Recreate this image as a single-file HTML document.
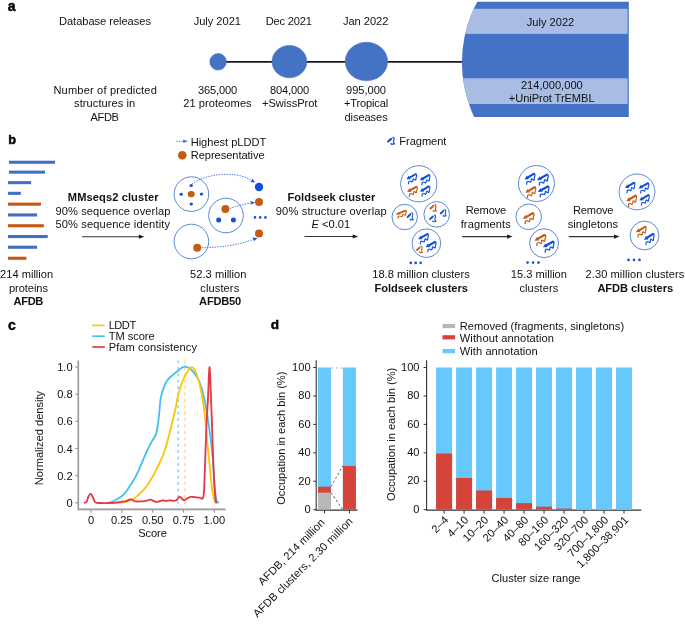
<!DOCTYPE html>
<html><head><meta charset="utf-8"><title>AFDB clustering figure</title>
<style>
html,body{margin:0;padding:0;background:#fff;}
body{width:685px;height:626px;overflow:hidden;font-family:"Liberation Sans",sans-serif;}
svg{display:block;will-change:transform;}
text{font-family:"Liberation Sans",sans-serif;}
</style></head><body>
<svg width="685" height="626" viewBox="0 0 685 626" font-family="Liberation Sans, sans-serif" font-size="11.1" fill="#111111"><defs>
<g id="prot">
<path d="M9.2 1.2 L3.4 4.6" stroke-width="2.1" stroke-linecap="round" fill="none"/>
<path d="M0.2 6.5 L2.4 2.8 L4.5 6.3 Z" stroke="none"/>
<path d="M9.2 0.8 C10.5 1.0 10.7 2.8 9.9 4.1 C9.6 5.1 9.9 7.3 9.4 7.3 C8.6 7.3 7.6 5.8 7.1 6.0 C6.5 6.4 6.8 9.2 6.1 9.2 C5.4 9.2 4.5 8.2 3.9 8.3 C3.2 8.4 2.8 8.6 2.5 9.0 L2.2 11.6" stroke-width="1.15" fill="none" stroke-linejoin="round"/>
</g>
<g id="frag">
<path d="M4.1 1.8 L1.0 4.4" stroke-width="2.1" stroke-linecap="round" fill="none"/>
<path d="M5.4 0.4 C6.9 0.5 7.6 1.4 6.6 3.2 L6.4 5.6 L7.5 6.9 L4.3 7.2 L3.8 6.0" stroke-width="1.2" fill="none" stroke-linejoin="round"/>
</g>
</defs><text x="7.7" y="10.8" text-anchor="start" font-weight="bold" font-size="14.0" fill="#000" stroke="#000" stroke-width="0.45">a</text>
<line x1="218" y1="61.8" x2="470" y2="61.8" stroke="#1a1a1a" stroke-width="1.7"/>
<circle cx="218.1" cy="61.8" r="8.3" fill="#4472c4" stroke="#3e6abb" stroke-width="0.5"/>
<ellipse cx="289.4" cy="61.6" rx="17.4" ry="16.2" fill="#4472c4" stroke="#3e6abb" stroke-width="0.5"/>
<ellipse cx="366.4" cy="61.5" rx="21.2" ry="19.3" fill="#4472c4" stroke="#3e6abb" stroke-width="0.5"/>
<clipPath id="bigclip"><rect x="460" y="1.8" width="168.8" height="115.3"/></clipPath>
<g clip-path="url(#bigclip)">
<circle cx="589.4" cy="62.5" r="127.5" fill="#4472c4"/>
<clipPath id="bigclip2"><circle cx="589.4" cy="62.5" r="127.5"/></clipPath>
<g clip-path="url(#bigclip2)">
<rect x="455" y="8.8" width="172.6" height="25.1" fill="#a9bce3"/>
<rect x="455" y="78.3" width="172.6" height="25.7" fill="#a9bce3"/>
</g></g>
<text x="59.00" y="25.3" letter-spacing="-0.035">Database releases</text>
<text x="193.70" y="25.4" letter-spacing="-0.027">July 2021</text>
<text x="265.70" y="25.4" letter-spacing="-0.174">Dec 2021</text>
<text x="342.90" y="25.3" letter-spacing="-0.024">Jan 2022</text>
<text x="526.80" y="25.5" letter-spacing="-0.003">July 2022</text>
<text x="53.40" y="93.5" letter-spacing="0.163">Number of predicted</text>
<text x="74.10" y="107.3" letter-spacing="0.063">structures in</text>
<text x="90.60" y="120.9" letter-spacing="-0.400">AFDB</text>
<text x="197.90" y="94.1" letter-spacing="-0.120">365,000</text>
<text x="183.20" y="107.1" letter-spacing="0.057">21 proteomes</text>
<text x="269.90" y="94.1" letter-spacing="-0.120">804,000</text>
<text x="262.00" y="107.1" letter-spacing="-0.048">+SwissProt</text>
<text x="346.00" y="94.1" letter-spacing="-0.020">995,000</text>
<text x="344.00" y="107.4" letter-spacing="-0.169">+Tropical</text>
<text x="344.50" y="121.0" letter-spacing="-0.087">diseases</text>
<text x="520.90" y="89.0" letter-spacing="0.017">214,000,000</text>
<text x="508.80" y="101.8" letter-spacing="-0.062">+UniProt TrEMBL</text>
<text x="8.2" y="143.8" text-anchor="start" font-weight="bold" font-size="12.8" fill="#000" stroke="#000" stroke-width="0.45">b</text>
<rect x="8.9" y="160.7" width="46.2" height="3.1" fill="#416fc4"/>
<rect x="8.9" y="170.6" width="36.1" height="3.1" fill="#416fc4"/>
<rect x="7.95" y="181.1" width="23.15" height="3.1" fill="#416fc4"/>
<rect x="7.95" y="191.8" width="12.85" height="3.1" fill="#416fc4"/>
<rect x="7.95" y="202.6" width="32.95" height="3.1" fill="#c55812"/>
<rect x="7.95" y="213.4" width="29.15" height="3.1" fill="#416fc4"/>
<rect x="7.95" y="224.2" width="35.85" height="3.1" fill="#c55812"/>
<rect x="7.95" y="235" width="39.75" height="3.1" fill="#416fc4"/>
<rect x="7.95" y="245.7" width="29.15" height="3.1" fill="#416fc4"/>
<rect x="7.95" y="256.7" width="18.45" height="3.1" fill="#c55812"/>
<text x="26.6" y="277.8" text-anchor="middle">214 million</text>
<text x="9.00" y="292.0" letter-spacing="-0.070">proteins</text>
<text x="13.60" y="304.9" font-weight="bold" letter-spacing="-0.343">AFDB</text>
<text x="67.80" y="200.6" font-weight="bold" letter-spacing="0.104">MMseqs2 cluster</text>
<text x="55.40" y="214.8" letter-spacing="0.114">90% sequence overlap</text>
<text x="55.40" y="227.9" letter-spacing="0.150">50% sequence identity</text>
<line x1="81.9" y1="236.7" x2="140.3" y2="236.7" stroke="#333" stroke-width="1.05"/>
<path d="M144.3 236.7 L138.8 234.6 L138.8 238.79999999999998 Z" fill="#1a1a1a"/>
<path d="M176.3 141.3 L183.5 141.3" stroke="#4d7fd8" stroke-width="1" stroke-dasharray="1.4 1.1" fill="none"/>
<path d="M188 141.3 L183.2 139.6 L183.2 143.0 Z" fill="#3f72d3"/>
<text x="190.70" y="145.5" letter-spacing="-0.023">Highest pLDDT</text>
<circle cx="182.3" cy="155.3" r="4.3" fill="#c45a16"/>
<text x="190.70" y="159.2" letter-spacing="-0.051">Representative</text>
<circle cx="191.4" cy="194.1" r="17.3" fill="none" stroke="#4a7ad0" stroke-width="0.9"/>
<circle cx="226.0" cy="215.5" r="17.3" fill="none" stroke="#4a7ad0" stroke-width="0.9"/>
<circle cx="191.4" cy="241.5" r="17.3" fill="none" stroke="#4a7ad0" stroke-width="0.9"/>
<ellipse cx="191.2" cy="194.1" rx="3.5" ry="3.2" fill="#c45a16"/>
<ellipse cx="191.2" cy="185.4" rx="1.7" ry="1.5" fill="#0f4fdc"/>
<ellipse cx="181.2" cy="194.2" rx="1.7" ry="1.5" fill="#0f4fdc"/>
<ellipse cx="201.5" cy="194.1" rx="1.7" ry="1.5" fill="#0f4fdc"/>
<ellipse cx="191.2" cy="204.1" rx="1.7" ry="1.5" fill="#0f4fdc"/>
<circle cx="225.4" cy="208.9" r="4" fill="#c45a16"/>
<circle cx="218.7" cy="220.1" r="2.5" fill="#0f4fdc"/>
<circle cx="233.4" cy="220.1" r="2.5" fill="#0f4fdc"/>
<circle cx="197.2" cy="247.7" r="4" fill="#c45a16"/>
<circle cx="259" cy="187" r="4.2" fill="#0f4fdc"/>
<circle cx="259" cy="202.1" r="4" fill="#c45a16"/>
<circle cx="259" cy="233.4" r="4" fill="#c45a16"/>
<circle cx="255" cy="217.4" r="1.3" fill="#0f4fdc"/>
<circle cx="260.2" cy="217.4" r="1.3" fill="#0f4fdc"/>
<circle cx="265.4" cy="217.4" r="1.3" fill="#0f4fdc"/>
<path d="M192 184 C205 174 236 170 251.5 180.5" stroke="#3f72d6" stroke-width="0.95" stroke-dasharray="1.4 1.2" fill="none"/>
<path d="M255 182.5 L250.2 182 L251.8 180.5 L252.2 178.2 Z" fill="#0f4fdc"/>
<path d="M229.8 208.3 C237 206 244 204 251.5 203" stroke="#3f72d6" stroke-width="0.95" stroke-dasharray="1.4 1.2" fill="none"/>
<path d="M255 202.4 L251 204.8 L251.4 202.8 L250.2 201 Z" fill="#0f4fdc"/>
<path d="M201.5 247.7 C222 247.5 238 245 254 239.2" stroke="#3f72d6" stroke-width="0.95" stroke-dasharray="1.4 1.2" fill="none"/>
<path d="M257.5 238 L253.8 241.2 L253.7 239.2 L252.2 237.6 Z" fill="#0f4fdc"/>
<text x="190.10" y="278.2" letter-spacing="0.023">52.3 million</text>
<text x="200.30" y="291.7" letter-spacing="0.094">clusters</text>
<text x="199.10" y="304.9" font-weight="bold" letter-spacing="-0.216">AFDB50</text>
<use href="#frag" transform="translate(387.1 137) scale(1 1.01)" fill="#0f4fdc" stroke="#0f4fdc"/>
<text x="399.30" y="144.9" letter-spacing="-0.057">Fragment</text>
<text x="287.50" y="201.2" font-weight="bold" letter-spacing="0.020">Foldseek cluster</text>
<text x="275.80" y="214.7" letter-spacing="0.152">90% structure overlap</text>
<text x="330.9" y="228.2" text-anchor="middle"><tspan font-style="italic">E</tspan> &lt;0.01</text>
<line x1="304.5" y1="236.5" x2="354.2" y2="236.5" stroke="#333" stroke-width="1.05"/>
<path d="M358.2 236.5 L352.7 234.4 L352.7 238.6 Z" fill="#1a1a1a"/>
<circle cx="418.8" cy="183.8" r="18.1" fill="none" stroke="#4a7ad0" stroke-width="0.9"/>
<circle cx="404.7" cy="217.0" r="12.7" fill="none" stroke="#4a7ad0" stroke-width="0.9"/>
<circle cx="436.7" cy="214.4" r="12.8" fill="none" stroke="#4a7ad0" stroke-width="0.9"/>
<circle cx="426.4" cy="243.2" r="14.35" fill="none" stroke="#4a7ad0" stroke-width="0.9"/>
<use href="#prot" transform="translate(406.2 173.1) scale(1.01 0.96)" fill="#0f4fdc" stroke="#0f4fdc"/>
<use href="#prot" transform="translate(419.6 174) scale(1 0.98)" fill="#0f4fdc" stroke="#0f4fdc"/>
<use href="#prot" transform="translate(407 185.6) scale(1 0.97)" fill="#c45a16" stroke="#c45a16"/>
<use href="#prot" transform="translate(419.8 185.3) scale(0.98 0.98)" fill="#0f4fdc" stroke="#0f4fdc"/>
<use href="#prot" transform="translate(395.6 209.8) scale(1.04 0.75)" fill="#c45a16" stroke="#c45a16"/>
<use href="#frag" transform="translate(406.8 212.4) scale(0.85 1.05)" fill="#0f4fdc" stroke="#0f4fdc"/>
<use href="#frag" transform="translate(429.5 204.2) scale(0.93 0.97)" fill="#c45a16" stroke="#c45a16"/>
<use href="#frag" transform="translate(439.8 209.2) scale(0.85 0.97)" fill="#0f4fdc" stroke="#0f4fdc"/>
<use href="#frag" transform="translate(429.2 214.8) scale(0.9 0.97)" fill="#0f4fdc" stroke="#0f4fdc"/>
<use href="#prot" transform="translate(418 232.9) scale(1.01 0.99)" fill="#0f4fdc" stroke="#0f4fdc"/>
<use href="#prot" transform="translate(425.5 240.8) scale(1.02 0.99)" fill="#0f4fdc" stroke="#0f4fdc"/>
<use href="#frag" transform="translate(416.1 245.8) scale(0.86 0.95)" fill="#c45a16" stroke="#c45a16"/>
<circle cx="410.8" cy="262.9" r="1.3" fill="#0f4fdc"/>
<circle cx="415.7" cy="262.9" r="1.3" fill="#0f4fdc"/>
<circle cx="420.6" cy="262.9" r="1.3" fill="#0f4fdc"/>
<text x="421.0" y="277.7" text-anchor="middle">18.8 million clusters</text>
<text x="374.50" y="291.5" font-weight="bold" letter-spacing="-0.018">Foldseek clusters</text>
<text x="465.80" y="214.4" letter-spacing="-0.186">Remove</text>
<text x="460.70" y="227.8" letter-spacing="0.094">fragments</text>
<line x1="462.2" y1="236.6" x2="508.6" y2="236.6" stroke="#333" stroke-width="1.05"/>
<path d="M512.6 236.6 L507.1 234.5 L507.1 238.7 Z" fill="#1a1a1a"/>
<circle cx="536.4" cy="183.5" r="18.0" fill="none" stroke="#4a7ad0" stroke-width="0.9"/>
<circle cx="528.7" cy="216.8" r="12.8" fill="none" stroke="#4a7ad0" stroke-width="0.9"/>
<circle cx="544.1" cy="243.2" r="14.45" fill="none" stroke="#4a7ad0" stroke-width="0.9"/>
<use href="#prot" transform="translate(524.3 172.6) scale(1.03 1.05)" fill="#0f4fdc" stroke="#0f4fdc"/>
<use href="#prot" transform="translate(536.8 173.4) scale(1.11 1.05)" fill="#0f4fdc" stroke="#0f4fdc"/>
<use href="#prot" transform="translate(525.1 186) scale(1.03 1.05)" fill="#c45a16" stroke="#c45a16"/>
<use href="#prot" transform="translate(537.7 185.2) scale(1.1 1.04)" fill="#0f4fdc" stroke="#0f4fdc"/>
<use href="#prot" transform="translate(522.6 212) scale(1.1 1.05)" fill="#c45a16" stroke="#c45a16"/>
<use href="#prot" transform="translate(534.3 233.8) scale(1.1 1.05)" fill="#c45a16" stroke="#c45a16"/>
<use href="#prot" transform="translate(542.7 240.5) scale(1.1 1.04)" fill="#0f4fdc" stroke="#0f4fdc"/>
<circle cx="527.6" cy="262.6" r="1.3" fill="#0f4fdc"/>
<circle cx="533.05" cy="262.6" r="1.3" fill="#0f4fdc"/>
<circle cx="538.5" cy="262.6" r="1.3" fill="#0f4fdc"/>
<text x="510.80" y="277.7" letter-spacing="0.005">15.3 million</text>
<text x="519.40" y="291.8" letter-spacing="0.109">clusters</text>
<text x="573.00" y="214.4" letter-spacing="-0.166">Remove</text>
<text x="567.70" y="227.8" letter-spacing="0.047">singletons</text>
<line x1="568.8" y1="236.6" x2="615.5" y2="236.6" stroke="#333" stroke-width="1.05"/>
<path d="M619.5 236.6 L614.0 234.5 L614.0 238.7 Z" fill="#1a1a1a"/>
<circle cx="637.0" cy="191.9" r="17.9" fill="none" stroke="#4a7ad0" stroke-width="0.9"/>
<circle cx="644.5" cy="235.5" r="14.4" fill="none" stroke="#4a7ad0" stroke-width="0.9"/>
<use href="#prot" transform="translate(624.8 181.6) scale(0.98 1)" fill="#0f4fdc" stroke="#0f4fdc"/>
<use href="#prot" transform="translate(638.4 182.1) scale(1.01 0.98)" fill="#0f4fdc" stroke="#0f4fdc"/>
<use href="#prot" transform="translate(626.1 194.4) scale(1.01 1.07)" fill="#c45a16" stroke="#c45a16"/>
<use href="#prot" transform="translate(639.2 193.9) scale(0.98 1.01)" fill="#0f4fdc" stroke="#0f4fdc"/>
<use href="#prot" transform="translate(635.7 225.6) scale(1.01 1.03)" fill="#c45a16" stroke="#c45a16"/>
<use href="#prot" transform="translate(643.7 232.8) scale(1.01 1.06)" fill="#0f4fdc" stroke="#0f4fdc"/>
<circle cx="628.5" cy="259.9" r="1.3" fill="#0f4fdc"/>
<circle cx="634" cy="259.9" r="1.3" fill="#0f4fdc"/>
<circle cx="639.5" cy="259.9" r="1.3" fill="#0f4fdc"/>
<text x="585.60" y="277.7" letter-spacing="0.061">2.30 million clusters</text>
<text x="597.40" y="291.5" font-weight="bold" letter-spacing="-0.057">AFDB clusters</text>
<text x="7.9" y="329.9" text-anchor="start" font-weight="bold" font-size="14.0" fill="#000" stroke="#000" stroke-width="0.45">c</text>
<line x1="92.3" y1="325.4" x2="104.8" y2="325.4" stroke="#fec30f" stroke-width="1.7"/>
<text x="108.70" y="328.8" letter-spacing="-0.497">LDDT</text>
<line x1="92.3" y1="336.2" x2="104.8" y2="336.2" stroke="#45c1f1" stroke-width="1.7"/>
<text x="108.70" y="339.9" letter-spacing="-0.036">TM score</text>
<line x1="92.3" y1="347.0" x2="104.8" y2="347.0" stroke="#e33b45" stroke-width="1.7"/>
<text x="108.70" y="350.8" letter-spacing="0.088">Pfam consistency</text>
<path d="M78.3 360.6 L78.3 509.4 L225.5 509.4" stroke="#999999" stroke-width="1.6" fill="none"/>
<line x1="75.3" y1="502.8" x2="78.6" y2="502.8" stroke="#999999" stroke-width="1.2"/>
<text x="72.6" y="506.8" text-anchor="end">0</text>
<line x1="75.3" y1="475.64" x2="78.6" y2="475.64" stroke="#999999" stroke-width="1.2"/>
<text x="72.6" y="479.6" text-anchor="end">0.2</text>
<line x1="75.3" y1="448.48" x2="78.6" y2="448.48" stroke="#999999" stroke-width="1.2"/>
<text x="72.6" y="452.5" text-anchor="end">0.4</text>
<line x1="75.3" y1="421.32" x2="78.6" y2="421.32" stroke="#999999" stroke-width="1.2"/>
<text x="72.6" y="425.3" text-anchor="end">0.6</text>
<line x1="75.3" y1="394.16" x2="78.6" y2="394.16" stroke="#999999" stroke-width="1.2"/>
<text x="72.6" y="398.2" text-anchor="end">0.8</text>
<line x1="75.3" y1="367" x2="78.6" y2="367" stroke="#999999" stroke-width="1.2"/>
<text x="72.6" y="371.0" text-anchor="end">1.0</text>
<line x1="91" y1="509.4" x2="91" y2="512.7" stroke="#999999" stroke-width="1.2"/>
<text x="91.0" y="523.7" text-anchor="middle">0</text>
<line x1="121.85" y1="509.4" x2="121.85" y2="512.7" stroke="#999999" stroke-width="1.2"/>
<text x="121.8" y="523.7" text-anchor="middle">0.25</text>
<line x1="152.7" y1="509.4" x2="152.7" y2="512.7" stroke="#999999" stroke-width="1.2"/>
<text x="152.7" y="523.7" text-anchor="middle">0.50</text>
<line x1="183.55" y1="509.4" x2="183.55" y2="512.7" stroke="#999999" stroke-width="1.2"/>
<text x="183.6" y="523.7" text-anchor="middle">0.75</text>
<line x1="214.4" y1="509.4" x2="214.4" y2="512.7" stroke="#999999" stroke-width="1.2"/>
<text x="214.4" y="523.7" text-anchor="middle">1.00</text>
<text x="138.20" y="537.2" letter-spacing="-0.075">Score</text>
<text transform="translate(42.7 438) rotate(-90)" text-anchor="middle">Normalized density</text>
<line x1="178.2" y1="360.5" x2="178.2" y2="509" stroke="#8dd5f5" stroke-width="1.5" stroke-dasharray="3 3.4"/>
<line x1="184.9" y1="360.5" x2="184.9" y2="509" stroke="#fedb86" stroke-width="1.5" stroke-dasharray="3 3.4"/>
<path d="M108 503 C108.58 502.82 110.08 502.48 111.5 501.9 C112.92 501.32 114.82 500.45 116.5 499.5 C118.18 498.55 120.1 497.4 121.6 496.2 C123.1 495 124.3 493.73 125.5 492.3 C126.7 490.87 127.63 489.32 128.8 487.6 C129.97 485.88 131.32 483.92 132.5 482 C133.68 480.08 134.82 478.18 135.9 476.1 C136.98 474.02 138.03 471.67 139 469.5 C139.97 467.33 140.87 465.05 141.7 463.1 C142.53 461.15 143.28 459.47 144 457.8 C144.72 456.13 145.3 454.65 146 453.1 C146.7 451.55 147.48 449.95 148.2 448.5 C148.92 447.05 149.58 445.77 150.3 444.4 C151.02 443.03 151.58 441.93 152.5 440.3 C153.42 438.67 154.93 436.98 155.8 434.6 C156.67 432.22 157.13 429.52 157.7 426 C158.27 422.48 158.72 417.97 159.2 413.5 C159.68 409.03 159.97 403.18 160.6 399.2 C161.23 395.22 161.97 392.63 163 389.6 C164.03 386.57 165.22 383.4 166.8 381 C168.38 378.6 170.68 376.87 172.5 375.2 C174.32 373.53 176.28 372.17 177.7 371 C179.12 369.83 179.87 368.92 181 368.2 C182.13 367.48 183.33 366.82 184.5 366.7 C185.67 366.58 186.9 367.03 188 367.5 C189.1 367.97 189.77 368.18 191.1 369.5 C192.43 370.82 194.6 373.32 196 375.4 C197.4 377.48 198.43 379.43 199.5 382 C200.57 384.57 201.48 387.47 202.4 390.8 C203.32 394.13 204.15 397.75 205 402 C205.85 406.25 206.67 410.97 207.5 416.3 C208.33 421.63 209.15 427.18 210 434 C210.85 440.82 211.9 449.53 212.6 457.2 C213.3 464.87 213.72 473.87 214.2 480 C214.68 486.13 215.03 490.42 215.5 494 C215.97 497.58 216.42 500.03 217 501.5 C217.58 502.97 218.67 502.58 219 502.8" stroke="#45c1f1" stroke-width="1.85" fill="none"/>
<path d="M112 503 C113.6 502.93 119.1 502.87 121.6 502.6 C124.1 502.33 125.08 501.98 127 501.4 C128.92 500.82 131.27 500.12 133.1 499.1 C134.93 498.08 136.33 496.75 138 495.3 C139.67 493.85 141.6 491.98 143.1 490.4 C144.6 488.82 145.8 487.47 147 485.8 C148.2 484.13 149.13 482.33 150.3 480.4 C151.47 478.47 152.8 476.37 154 474.2 C155.2 472.03 156.42 469.6 157.5 467.4 C158.58 465.2 159.53 463.15 160.5 461 C161.47 458.85 162.45 456.7 163.3 454.5 C164.15 452.3 164.85 450.22 165.6 447.8 C166.35 445.38 167.1 442.55 167.8 440 C168.5 437.45 169.17 435 169.8 432.5 C170.43 430 170.97 427.62 171.6 425 C172.23 422.38 172.95 419.5 173.6 416.8 C174.25 414.1 174.78 412.22 175.5 408.8 C176.22 405.38 177.1 399.82 177.9 396.3 C178.7 392.78 179.43 390.42 180.3 387.7 C181.17 384.98 182.23 382.12 183.1 380 C183.97 377.88 184.73 376.47 185.5 375 C186.27 373.53 186.8 372.48 187.7 371.2 C188.6 369.92 189.93 367.78 190.9 367.3 C191.87 366.82 192.65 367.43 193.5 368.3 C194.35 369.17 195.15 370.45 196 372.5 C196.85 374.55 197.73 377.43 198.6 380.6 C199.47 383.77 200.35 387.25 201.2 391.5 C202.05 395.75 202.95 400.68 203.7 406.1 C204.45 411.52 205.07 417.6 205.7 424 C206.33 430.4 206.87 437.83 207.5 444.5 C208.13 451.17 208.87 457.62 209.5 464 C210.13 470.38 210.67 477.55 211.3 482.8 C211.93 488.05 212.65 492.3 213.3 495.5 C213.95 498.7 214.58 500.75 215.2 502 C215.82 503.25 216.7 502.83 217 503" stroke="#fec30f" stroke-width="1.85" fill="none"/>
<path d="M84.1 503 C84.46 502.85 85.87 502.9 86.5 502 C87.13 501.1 87.69 498.26 88.3 497 C88.91 495.74 89.92 493.6 90.6 493.6 C91.27 493.6 92.09 495.68 92.8 497 C93.5 498.32 94.22 501.5 95.3 502.4 C96.38 503.3 97.8 502.91 100 503 C102.2 503.09 107.6 503.06 110 503 C112.4 502.94 114.35 502.78 116 502.6 C117.65 502.42 119.5 502.01 121 501.8 C122.5 501.59 124.55 501.57 126 501.2 C127.45 500.82 129.32 499.27 130.7 499.3 C132.08 499.33 133.61 501.08 135.2 501.4 C136.79 501.71 139.68 501.49 141.3 501.4 C142.92 501.31 144.62 501.06 146 500.8 C147.38 500.55 149.06 499.55 150.5 499.7 C151.94 499.85 154.32 501.53 155.6 501.8 C156.88 502.07 157.92 501.73 159 501.5 C160.08 501.27 161.75 500.38 162.8 500.3 C163.85 500.23 164.94 501 166 501 C167.06 501 168.78 500.33 169.9 500.3 C171.03 500.27 172.51 500.81 173.5 500.8 C174.49 500.79 175.57 500.83 176.5 500.2 C177.43 499.57 178.88 496.81 179.7 496.6 C180.52 496.39 181.32 498.25 182 498.8 C182.68 499.36 183.45 500.35 184.2 500.3 C184.95 500.25 186.07 499.01 187 498.5 C187.93 497.99 189.43 497.12 190.4 496.9 C191.38 496.67 192.59 496.94 193.5 497 C194.41 497.06 195.53 497.18 196.5 497.3 C197.47 497.42 199.06 497.67 200 497.8 C200.94 497.94 202.17 499.67 202.8 498.2 C203.43 496.73 203.69 497.98 204.2 488 C204.71 478.02 205.63 445.2 206.2 431.7 C206.77 418.2 207.49 407.66 208 398 C208.51 388.34 209.1 366.09 209.6 367.3 C210.09 368.51 210.85 394.9 211.3 406.1 C211.75 417.31 212.21 431.26 212.6 442 C212.99 452.74 213.54 469.9 213.9 477.7 C214.26 485.5 214.7 490.36 215 494 C215.3 497.64 215.6 500.68 215.9 502 C216.2 503.32 216.84 502.68 217 502.8" stroke="#e33b45" stroke-width="1.85" fill="none"/>
<text x="270.8" y="329.4" text-anchor="start" font-weight="bold" font-size="13.6" fill="#000" stroke="#000" stroke-width="0.45">d</text>
<path d="M316.2 360.3 L316.2 510.1 L357.6 510.1" stroke="#333333" stroke-width="1.1" fill="none"/>
<line x1="313.2" y1="509.7" x2="316.2" y2="509.7" stroke="#333333" stroke-width="1"/>
<text x="310.6" y="513.0" text-anchor="end">0</text>
<line x1="313.2" y1="481.26" x2="316.2" y2="481.26" stroke="#333333" stroke-width="1"/>
<text x="310.6" y="484.6" text-anchor="end">20</text>
<line x1="313.2" y1="452.82" x2="316.2" y2="452.82" stroke="#333333" stroke-width="1"/>
<text x="310.6" y="456.1" text-anchor="end">40</text>
<line x1="313.2" y1="424.38" x2="316.2" y2="424.38" stroke="#333333" stroke-width="1"/>
<text x="310.6" y="427.7" text-anchor="end">60</text>
<line x1="313.2" y1="395.94" x2="316.2" y2="395.94" stroke="#333333" stroke-width="1"/>
<text x="310.6" y="399.2" text-anchor="end">80</text>
<line x1="313.2" y1="367.5" x2="316.2" y2="367.5" stroke="#333333" stroke-width="1"/>
<text x="310.6" y="370.8" text-anchor="end">100</text>
<text transform="translate(285.1 438.2) rotate(-90)" text-anchor="middle">Occupation in each bin (%)</text>
<rect x="318" y="367.5" width="12.9" height="142.2" fill="#67c8fb"/>
<rect x="318" y="486.66" width="12.9" height="23.04" fill="#d4443b"/>
<rect x="318" y="492.64" width="12.9" height="17.06" fill="#b8b8b8"/>
<rect x="342.9" y="367.5" width="13" height="142.2" fill="#67c8fb"/>
<rect x="342.9" y="465.9" width="13" height="43.8" fill="#d4443b"/>
<line x1="331" y1="368" x2="342.9" y2="368" stroke="#b0b0b0" stroke-width="1.0" stroke-dasharray="2.2 2.6"/>
<line x1="331" y1="486.66" x2="342.9" y2="465.9" stroke="#5e5e5e" stroke-width="1.0" stroke-dasharray="2.4 2.1" fill="none"/>
<line x1="331" y1="492.64" x2="342.9" y2="509.7" stroke="#5e5e5e" stroke-width="1.0" stroke-dasharray="2.4 2.1" fill="none"/>
<line x1="324.5" y1="510.1" x2="324.5" y2="513.4" stroke="#333333" stroke-width="1"/>
<line x1="349.4" y1="510.1" x2="349.4" y2="513.4" stroke="#333333" stroke-width="1"/>
<text transform="translate(325.4 523.2) rotate(-45)" text-anchor="end">AFDB, 214 million</text>
<text transform="translate(353.5 522.0) rotate(-45)" text-anchor="end" letter-spacing="0.1">AFDB clusters, 2.30 million</text>
<path d="M426.6 360.3 L426.6 510.1 L641.3 510.1" stroke="#333333" stroke-width="1.1" fill="none"/>
<line x1="423.6" y1="509.7" x2="426.6" y2="509.7" stroke="#333333" stroke-width="1"/>
<text x="419.5" y="512.8" text-anchor="end">0</text>
<line x1="423.6" y1="481.26" x2="426.6" y2="481.26" stroke="#333333" stroke-width="1"/>
<text x="419.5" y="484.4" text-anchor="end">20</text>
<line x1="423.6" y1="452.82" x2="426.6" y2="452.82" stroke="#333333" stroke-width="1"/>
<text x="419.5" y="455.9" text-anchor="end">40</text>
<line x1="423.6" y1="424.38" x2="426.6" y2="424.38" stroke="#333333" stroke-width="1"/>
<text x="419.5" y="427.5" text-anchor="end">60</text>
<line x1="423.6" y1="395.94" x2="426.6" y2="395.94" stroke="#333333" stroke-width="1"/>
<text x="419.5" y="399.0" text-anchor="end">80</text>
<line x1="423.6" y1="367.5" x2="426.6" y2="367.5" stroke="#333333" stroke-width="1"/>
<text x="419.5" y="370.6" text-anchor="end">100</text>
<text transform="translate(395.0 434.4) rotate(-90)" text-anchor="middle">Occupation in each bin (%)</text>
<rect x="436.1" y="367.5" width="16" height="142.2" fill="#67c8fb"/>
<rect x="436.1" y="453.53" width="16" height="56.17" fill="#d4443b"/>
<line x1="444.1" y1="510.1" x2="444.1" y2="513.6" stroke="#333333" stroke-width="1"/>
<text transform="translate(449.1 520.6) rotate(-45)" text-anchor="end">2–4</text>
<rect x="456.09" y="367.5" width="16" height="142.2" fill="#67c8fb"/>
<rect x="456.09" y="477.99" width="16" height="31.71" fill="#d4443b"/>
<line x1="464.09" y1="510.1" x2="464.09" y2="513.6" stroke="#333333" stroke-width="1"/>
<text transform="translate(469.09 520.6) rotate(-45)" text-anchor="end">4–10</text>
<rect x="476.08" y="367.5" width="16" height="142.2" fill="#67c8fb"/>
<rect x="476.08" y="490.5" width="16" height="19.2" fill="#d4443b"/>
<line x1="484.08" y1="510.1" x2="484.08" y2="513.6" stroke="#333333" stroke-width="1"/>
<text transform="translate(489.08 520.6) rotate(-45)" text-anchor="end">10–20</text>
<rect x="496.07" y="367.5" width="16" height="142.2" fill="#67c8fb"/>
<rect x="496.07" y="497.9" width="16" height="11.8" fill="#d4443b"/>
<line x1="504.07" y1="510.1" x2="504.07" y2="513.6" stroke="#333333" stroke-width="1"/>
<text transform="translate(509.07 520.6) rotate(-45)" text-anchor="end">20–40</text>
<rect x="516.06" y="367.5" width="16" height="142.2" fill="#67c8fb"/>
<rect x="516.06" y="503.16" width="16" height="6.54" fill="#d4443b"/>
<line x1="524.06" y1="510.1" x2="524.06" y2="513.6" stroke="#333333" stroke-width="1"/>
<text transform="translate(529.06 520.6) rotate(-45)" text-anchor="end">40–80</text>
<rect x="536.05" y="367.5" width="16" height="142.2" fill="#67c8fb"/>
<rect x="536.05" y="506.71" width="16" height="2.99" fill="#d4443b"/>
<line x1="544.05" y1="510.1" x2="544.05" y2="513.6" stroke="#333333" stroke-width="1"/>
<text transform="translate(549.05 520.6) rotate(-45)" text-anchor="end">80–160</text>
<rect x="556.04" y="367.5" width="16" height="142.2" fill="#67c8fb"/>
<rect x="556.04" y="508.56" width="16" height="1.14" fill="#d4443b"/>
<line x1="564.04" y1="510.1" x2="564.04" y2="513.6" stroke="#333333" stroke-width="1"/>
<text transform="translate(569.04 520.6) rotate(-45)" text-anchor="end">160–320</text>
<rect x="576.03" y="367.5" width="16" height="142.2" fill="#67c8fb"/>
<line x1="584.03" y1="510.1" x2="584.03" y2="513.6" stroke="#333333" stroke-width="1"/>
<text transform="translate(589.03 520.6) rotate(-45)" text-anchor="end">320–700</text>
<rect x="596.02" y="367.5" width="16" height="142.2" fill="#67c8fb"/>
<line x1="604.02" y1="510.1" x2="604.02" y2="513.6" stroke="#333333" stroke-width="1"/>
<text transform="translate(609.02 520.6) rotate(-45)" text-anchor="end">700–1,800</text>
<rect x="616.01" y="367.5" width="16" height="142.2" fill="#67c8fb"/>
<line x1="624.01" y1="510.1" x2="624.01" y2="513.6" stroke="#333333" stroke-width="1"/>
<text transform="translate(629.01 520.6) rotate(-45)" text-anchor="end">1,800–38,901</text>
<text x="491.60" y="582.0" letter-spacing="-0.033">Cluster size range</text>
<rect x="442.5" y="323.9" width="12.6" height="4.2" fill="#b8b8b8"/>
<text x="459.80" y="329.8" letter-spacing="0.030">Removed (fragments, singletons)</text>
<rect x="442.5" y="335.2" width="12.6" height="4.2" fill="#d4443b"/>
<text x="459.80" y="341.6" letter-spacing="0.102">Without annotation</text>
<rect x="442.5" y="349" width="12.6" height="4.2" fill="#67c8fb"/>
<text x="459.80" y="355.2" letter-spacing="0.062">With annotation</text></svg>
</body></html>
